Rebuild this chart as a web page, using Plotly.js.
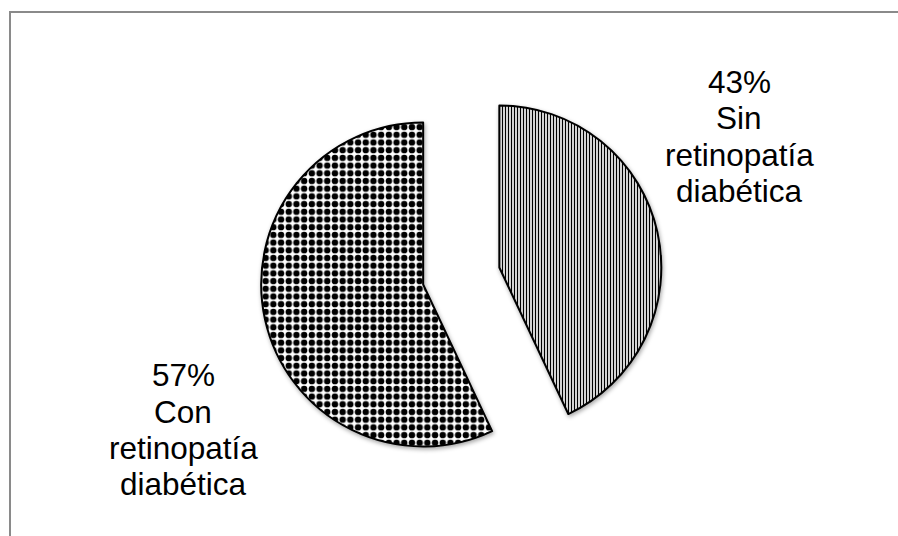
<!DOCTYPE html>
<html>
<head>
<meta charset="utf-8">
<script src="https://cdn.plot.ly/plotly-3.0.1.min.js"></script>
<style>
  html, body { margin: 0; padding: 0; background: #fff; overflow: hidden; }
  #wrap { position: relative; width: 898px; height: 536px; }
  #chart { position: absolute; left: 0; top: 0; width: 898px; height: 536px; }
  #frame { position: absolute; left: 9px; top: 11px; width: 900px; height: 540px;
           border-left: 2px solid #8a8a8a; border-top: 2px solid #8a8a8a; pointer-events: none; }
  .slice path.surface { filter: drop-shadow(1px 2px 2px rgba(0,0,0,0.35)); }
</style>
</head>
<body>
<div id="wrap"><div id="chart"></div><div id="frame"></div></div>
<script>
// ---- data ----
const categories = ['Sin retinopatía diabética', 'Con retinopatía diabética'];
const values = [43, 57];

// ---- styles ----
const W = 898, H = 536;
const FONT = 'Liberation Sans, Arial, sans-serif';
const patterns = [
  { shape: '|', fgcolor: '#000', bgcolor: '#fff', size: 3, solidity: 0.45 },
  { shape: '.', fgcolor: '#000', bgcolor: '#fff', size: 7.7, solidity: 0.55 }
];

const trace = {
  type: 'pie',
  labels: categories,
  values: values,
  sort: false,
  direction: 'clockwise',
  rotation: 0,
  pull: [0.241, 0.241],
  textinfo: 'none',
  hoverinfo: 'skip',
  marker: {
    colors: ['#fff', '#fff'],
    line: { color: '#000', width: 2 },
    pattern: {
      shape: patterns.map(p => p.shape),
      fgcolor: patterns.map(p => p.fgcolor),
      bgcolor: patterns.map(p => p.bgcolor),
      size: patterns.map(p => p.size),
      solidity: patterns.map(p => p.solidity)
    }
  },
  domain: { x: [260.25 / W, 662.25 / W], y: [(H - 477) / H, (H - 75) / H] }
};

// label blocks: percentage + words of the category, one per line
const total = values.reduce((a, b) => a + b, 0);
const blockPos = [
  { x: 739, ys: [82, 118, 155, 191] },
  { x: 183, ys: [375, 412, 448, 484] }
];
const annotations = [];
categories.forEach((c, i) => {
  const lines = [Math.round(values[i] / total * 100) + '%'].concat(c.split(' '));
  lines.forEach((t, j) => {
    annotations.push({
      text: t, showarrow: false, xref: 'paper', yref: 'paper',
      x: blockPos[i].x / W, y: 1 - blockPos[i].ys[j] / H,
      xanchor: 'center', yanchor: 'middle',
      font: { family: FONT, size: 31.5, color: '#000' }
    });
  });
});

const layout = {
  width: W, height: H,
  margin: { l: 0, r: 0, t: 0, b: 0 },
  paper_bgcolor: 'rgba(0,0,0,0)',
  showlegend: false,
  hovermode: false,
  annotations: annotations
};

Plotly.newPlot('chart', [trace], layout, { displayModeBar: false, staticPlot: true });
</script>
</body>
</html>
